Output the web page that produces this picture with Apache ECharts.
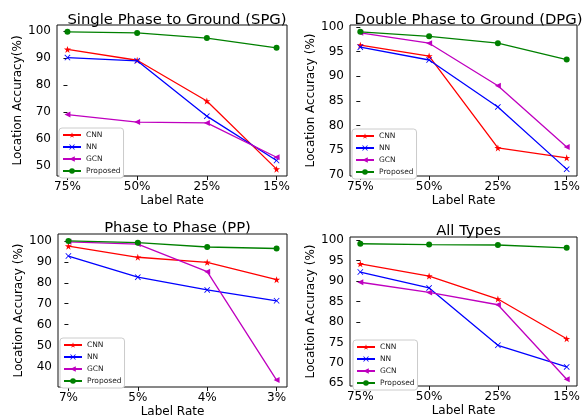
<!DOCTYPE html>
<html>
<head>
<meta charset="utf-8">
<script src="https://cdn.jsdelivr.net/npm/echarts@6.0.0/dist/echarts.min.js"></script>
<style>
html,body{margin:0;padding:0;background:#fff;}
#main{width:585px;height:420px;}
</style>
</head>
<body>
<div id="main"></div>
<script>
// category labels
var rateLabels = ['75%', '50%', '25%', '15%'];
var ppLabels = ['7%', '5%', '4%', '3%'];

// Single Phase to Ground
var spgCNN = [93.2, 89.2, 74.1, 48.9];
var spgNN = [90.2, 89.0, 68.5, 52.1];
var spgGCN = [69.1, 66.3, 66.0, 53.3];
var spgProposed = [99.7, 99.3, 97.4, 93.8];
var spgTicks = [50, 60, 70, 80, 90, 100];

// Double Phase to Ground
var dpgCNN = [96.3, 94.1, 75.5, 73.5];
var dpgNN = [95.9, 93.3, 83.8, 71.2];
var dpgGCN = [98.8, 96.7, 88.1, 75.7];
var dpgProposed = [99.0, 98.1, 96.7, 93.4];
var dpgTicks = [70, 75, 80, 85, 90, 95, 100];

// Phase to Phase
var ppCNN = [97.5, 92.2, 89.8, 81.5];
var ppNN = [92.8, 82.7, 76.6, 71.4];
var ppGCN = [99.6, 98.5, 85.3, 33.5];
var ppProposed = [100.0, 99.2, 97.1, 96.4];
var ppTicks = [40, 50, 60, 70, 80, 90, 100];

// All Types
var allCNN = [94.2, 91.2, 85.6, 75.9];
var allNN = [92.2, 88.3, 74.3, 69.0];
var allGCN = [89.7, 87.2, 84.2, 66.0];
var allProposed = [99.1, 98.9, 98.8, 98.1];
var allTicks = [65, 70, 75, 80, 85, 90, 95, 100];

var names = ['CNN', 'NN', 'GCN', 'Proposed'];
var colors = ['#ff0000', '#0000ff', '#bf00bf', '#008000'];
var starPath = 'path://M10,0 L12.245,6.91 L19.51,6.91 L13.63,11.18 L15.88,18.09 L10,13.82 L4.12,18.09 L6.37,11.18 L0.49,6.91 L7.755,6.91 Z';
var xPath = 'path://M0,1 L1,0 L5,4 L9,0 L10,1 L6,5 L10,9 L9,10 L5,6 L1,10 L0,9 L4,5 Z';
var triLeft = 'path://M0,5 L10,0 L10,10 Z';
var symbols = [starPath, xPath, triLeft, 'circle'];
var symSizes = [7, 6, 6, 6];

var panels = [
    {title: 'Single Phase to Ground (SPG)', yName: 'Location Accuracy(%)', labels: rateLabels, ticks: spgTicks,
     data: [spgCNN, spgNN, spgGCN, spgProposed], grid: {left: 57, top: 25, width: 230, height: 151}, titleTop: 8, legend: {left: 59, top: 128}},
    {title: 'Double Phase to Ground (DPG)', yName: 'Location Accuracy (%)', labels: rateLabels, ticks: dpgTicks,
     data: [dpgCNN, dpgNN, dpgGCN, dpgProposed], grid: {left: 350, top: 25, width: 227, height: 151}, titleTop: 8, legend: {left: 352, top: 129}},
    {title: 'Phase to Phase (PP)', yName: 'Location Accuracy (%)', labels: ppLabels, ticks: ppTicks,
     data: [ppCNN, ppNN, ppGCN, ppProposed], grid: {left: 58, top: 234, width: 229, height: 153}, titleTop: 216, legend: {left: 60, top: 338}},
    {title: 'All Types', yName: 'Location Accuracy (%)', labels: rateLabels, ticks: allTicks,
     data: [allCNN, allNN, allGCN, allProposed], grid: {left: 350, top: 237, width: 227, height: 149}, titleTop: 219, legend: {left: 353, top: 340}}
];

// matplotlib style 5% margins
function autoRange(arrs) {
    var lo = Infinity, hi = -Infinity;
    arrs.forEach(function (a) {
        a.forEach(function (v) { lo = Math.min(lo, v); hi = Math.max(hi, v); });
    });
    var pad = (hi - lo) * 0.05;
    return [lo - pad, hi + pad];
}

var font = 'DejaVu Sans';
var option = {
    backgroundColor: '#fff',
    animation: false,
    textStyle: {fontFamily: font},
    title: [], grid: [], xAxis: [], yAxis: [], legend: [], series: []
};

panels.forEach(function (p, i) {
    var g = p.grid;
    var yr = autoRange(p.data);
    option.title.push({
        text: p.title, left: g.left + g.width / 2, top: p.titleTop, textAlign: 'center',
        textStyle: {fontFamily: font, fontSize: 14.8, fontWeight: 'normal', color: '#000'}
    });
    option.grid.push({
        left: g.left, top: g.top, width: g.width, height: g.height,
        show: true, borderColor: '#111', borderWidth: 1, backgroundColor: 'transparent'
    });
    var labels = p.labels;
    option.xAxis.push({
        type: 'value', gridIndex: i, min: -0.15, max: 3.15,
        name: 'Label Rate', nameLocation: 'middle', nameGap: 19,
        nameTextStyle: {fontFamily: font, fontSize: 12, color: '#000'},
        axisLine: {show: false},
        axisTick: {show: true, length: 4, customValues: [0, 1, 2, 3], lineStyle: {color: '#111'}},
        axisLabel: {customValues: [0, 1, 2, 3], margin: 5, fontSize: 12, color: '#000', fontFamily: font,
            formatter: function (v) { return labels[Math.round(v)]; }},
        splitLine: {show: false}
    });
    option.yAxis.push({
        type: 'value', gridIndex: i, min: yr[0], max: yr[1],
        name: p.yName, nameLocation: 'middle', nameGap: 33, nameRotate: 90,
        nameTextStyle: {fontFamily: font, fontSize: 12, color: '#000'},
        axisLine: {show: false},
        axisTick: {show: true, length: 4, customValues: p.ticks, lineStyle: {color: '#111'}},
        axisLabel: {customValues: p.ticks, margin: 6, fontSize: 12, color: '#000', fontFamily: font},
        splitLine: {show: false}
    });
    var legendData = [];
    p.data.forEach(function (vals, k) {
        var id = names[k] + '_' + i;
        legendData.push({name: id});
        option.series.push({
            id: id, name: id, type: 'line',
            xAxisIndex: i, yAxisIndex: i,
            data: vals.map(function (v, j) { return [j, v]; }),
            symbol: symbols[k], symbolSize: symSizes[k],
            lineStyle: {color: colors[k], width: 1.3},
            itemStyle: {color: colors[k]},
            z: 2 + k
        });
    });
    option.legend.push({
        data: legendData, orient: 'vertical', left: p.legend.left, top: p.legend.top,
        itemWidth: 18, itemHeight: 7, itemGap: 4, padding: [3, 3, 3, 3],
        backgroundColor: '#fff', borderColor: '#ccc', borderWidth: 1, borderRadius: 3,
        textStyle: {fontFamily: font, fontSize: 7.5, color: '#222'},
        formatter: function (n) { return n.split('_')[0]; },
        selectedMode: false
    });
});

var myChart = echarts.init(document.getElementById('main'), null, {renderer: 'canvas'});
myChart.setOption(option);
</script>
</body>
</html>
